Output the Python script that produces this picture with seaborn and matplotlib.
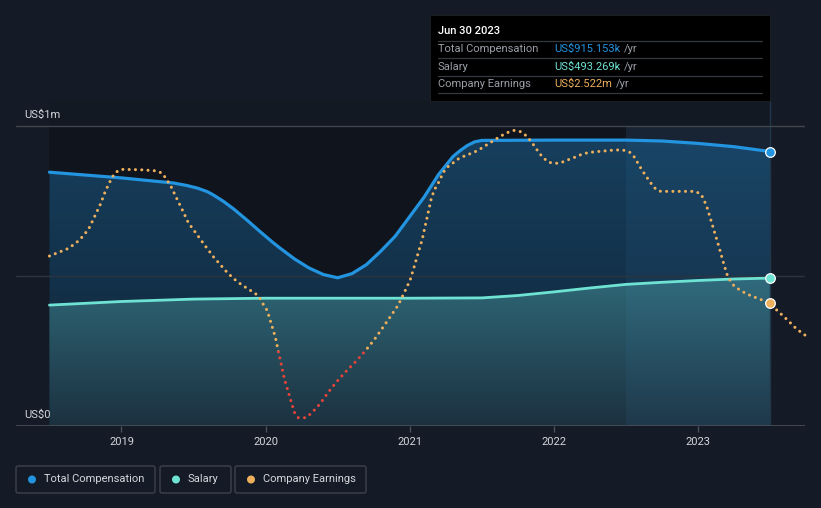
import numpy as np
import pandas as pd
import matplotlib
matplotlib.use("Agg")
import matplotlib.pyplot as plt
import seaborn as sns
from matplotlib.patches import Rectangle, FancyBboxPatch, Circle
from matplotlib.lines import Line2D
from matplotlib.transforms import IdentityTransform
from matplotlib.colors import LinearSegmentedColormap

# ---------------- data ----------------
comp_t = [2018.5, 2019.0, 2019.36, 2019.45, 2019.527, 2019.596, 2019.638, 2019.707, 2019.777, 2019.874,
          2019.964, 2020.05, 2020.1, 2020.2, 2020.3, 2020.4, 2020.5, 2020.6, 2020.7, 2020.8,
          2020.9, 2021.0, 2021.1, 2021.2, 2021.3, 2021.35, 2021.4, 2021.45, 2021.5, 2022.0,
          2022.5, 2022.75, 2023.0, 2023.25, 2023.5]
comp_v = [0.846, 0.827, 0.810, 0.802, 0.793, 0.781, 0.770, 0.749, 0.724, 0.685,
          0.647, 0.612, 0.593, 0.557, 0.527, 0.505, 0.494, 0.508, 0.538, 0.583,
          0.633, 0.698, 0.763, 0.838, 0.898, 0.918, 0.935, 0.947, 0.952, 0.953,
          0.953, 0.950, 0.942, 0.931, 0.915]

sal_t = [2018.5, 2019.0, 2019.5, 2020.0, 2021.0, 2021.5, 2021.75, 2022.0, 2022.25,
         2022.5, 2022.75, 2023.0, 2023.25, 2023.5]
sal_v = [0.403, 0.415, 0.423, 0.426, 0.426, 0.427, 0.435, 0.447, 0.460,
         0.472, 0.479, 0.485, 0.490, 0.493]

earn_t = [2018.5, 2018.633, 2018.709, 2018.771, 2018.813, 2018.854, 2018.889, 2018.931, 2018.958, 2019.0,
          2019.132, 2019.243, 2019.284, 2019.312, 2019.340, 2019.381, 2019.423, 2019.464, 2019.527, 2019.582,
          2019.638, 2019.735, 2019.804, 2019.880, 2019.929, 2019.964, 2019.984, 2020.012, 2020.040, 2020.068,
          2020.088, 2020.109, 2020.130, 2020.158, 2020.185, 2020.199, 2020.227, 2020.276, 2020.310, 2020.345,
          2020.380, 2020.435, 2020.497, 2020.560, 2020.629, 2020.692, 2020.754, 2020.809, 2020.865, 2020.920,
          2020.962, 2021.003, 2021.031, 2021.059, 2021.087, 2021.107, 2021.128, 2021.149, 2021.170, 2021.191,
          2021.211, 2021.232, 2021.260, 2021.302, 2021.336, 2021.385, 2021.426, 2021.475, 2021.510, 2021.551,
          2021.593, 2021.641, 2021.683, 2021.724, 2021.773, 2021.808, 2021.842, 2021.870, 2021.898, 2021.932,
          2021.967, 2022.016, 2022.064, 2022.106, 2022.154, 2022.196, 2022.244, 2022.293, 2022.341, 2022.390,
          2022.438, 2022.480, 2022.529, 2022.563, 2022.584, 2022.612, 2022.640, 2022.667, 2022.695, 2022.730,
          2022.785, 2022.875, 2022.979, 2023.021, 2023.042, 2023.062, 2023.090, 2023.118, 2023.146, 2023.173,
          2023.201, 2023.222, 2023.250, 2023.291, 2023.340, 2023.381, 2023.423, 2023.5, 2023.548, 2023.617,
          2023.686, 2023.742]
earn_v = [5.04, 5.45, 5.89, 6.46, 7.13, 7.80, 8.51, 9.17, 9.49, 9.65,
          9.63, 9.57, 9.44, 9.12, 8.80, 8.14, 7.48, 6.81, 6.15, 5.57,
          5.00, 4.15, 3.67, 3.28, 3.05, 2.75, 2.47, 2.13, 1.42, 0.71,
          -0.02, -0.74, -1.49, -2.20, -2.90, -3.26, -3.56, -3.56, -3.37, -3.10,
          -2.80, -2.20, -1.61, -1.08, -0.55, 0.00, 0.59, 1.19, 1.81, 2.43,
          3.09, 3.76, 4.47, 5.21, 5.93, 6.63, 7.34, 8.07, 8.55, 8.81,
          9.12, 9.48, 9.76, 10.00, 10.20, 10.38, 10.50, 10.66, 10.84, 11.03,
          11.24, 11.46, 11.62, 11.72, 11.65, 11.44, 11.14, 10.84, 10.52, 10.23,
          10.02, 9.97, 10.05, 10.18, 10.32, 10.46, 10.55, 10.59, 10.62, 10.66,
          10.68, 10.68, 10.55, 10.27, 9.97, 9.61, 9.29, 8.99, 8.69, 8.49,
          8.48, 8.48, 8.48, 8.34, 8.02, 7.66, 6.95, 6.24, 5.53, 4.79,
          4.08, 3.76, 3.46, 3.23, 3.02, 2.89, 2.77, 2.522, 2.16, 1.67,
          1.15, 0.84]

year_ticks = [2019, 2020, 2021, 2022, 2023]
year_labels = ["2019", "2020", "2021", "2022", "2023"]
y_ticks = [0.0, 1.0]
y_labels = ["US$0", "US$1m"]

tip_title = "Jun 30 2023"
tip_rows = ["Total Compensation", "Salary", "Company Earnings"]
tip_vals = ["US$915.153k", "US$493.269k", "US$2.522m"]
legend_names = ["Total Compensation", "Salary", "Company Earnings"]

# ---------------- style ----------------
BG = '#151b26'
BLUE = '#2394df'
TEAL = '#6fe3d3'
ORANGE = '#eeb05c'
RED = '#e8443a'
TXT = '#d4d7dc'

sns.set_theme(style='dark')
plt.rcParams['font.family'] = ['Roboto', 'DejaVu Sans']

comp_df = pd.DataFrame({'t': comp_t, 'v': comp_v})
sal_df = pd.DataFrame({'t': sal_t, 'v': sal_v})
earn_df = pd.DataFrame({'t': earn_t, 'v': earn_v})

W, H = 821, 508
fig = plt.figure(figsize=(W / 100, H / 100), dpi=100, facecolor=BG)
ax = fig.add_axes([16 / W, 82 / H, 789 / W, 326 / H])
ax.set_facecolor(BG)
XLIM = (2018.268, 2023.743)
YLIM = (0, 326 / 300)

for s in ax.spines.values():
    s.set_visible(False)
ax.grid(False)

# darker plot region
ax.add_patch(Rectangle((2018.5, 0), 4.0, 1.0, facecolor='#000000', alpha=0.22, edgecolor='none', zorder=0.5))
ax.add_patch(Rectangle((2018.5, 1.0), 5.0, 0.2, facecolor='#000000', alpha=0.06, edgecolor='none', zorder=0.5))


def grad_fill(x, y, ctop, cbot, ytop, z):
    poly = ax.fill_between(x, 0, y, facecolor='none', edgecolor='none', zorder=z)
    cmap = LinearSegmentedColormap.from_list('g', [cbot, ctop])
    grad = np.linspace(0, 1, 256).reshape(-1, 1)
    im = ax.imshow(grad, extent=[min(x), max(x), 0, ytop], aspect='auto', origin='lower',
                   cmap=cmap, zorder=z, interpolation='bicubic')
    im.set_clip_path(poly.get_paths()[0], ax.transData)


grad_fill(comp_t, comp_v, '#17405f', '#0f2335', 1.0, 1)
grad_fill(sal_t, sal_v, '#2f6877', '#1c3140', 0.5, 2)

# highlighted last year
ax.add_patch(Rectangle((2022.5, 0), 1.0, 1.0, facecolor='#4aa0e0', alpha=0.07, edgecolor='none', zorder=2.5))
ax.axvline(2023.5, color='#22364a', lw=1, zorder=2.6)

# gridlines
ax.axhline(0.5, color='#2c3440', lw=1, zorder=2.7)
ax.axhline(1.0, color='#40454e', lw=1, zorder=2.7)
ax.axhline(0.0, color='#4a4f58', lw=1.2, zorder=2.7)

sns.lineplot(data=comp_df, x='t', y='v', ax=ax, color=BLUE, lw=2.3, zorder=4, legend=False)
sns.lineplot(data=sal_df, x='t', y='v', ax=ax, color=TEAL, lw=2.0, zorder=4, legend=False)
for ln in ax.lines[-2:]:
    ln.set_solid_joinstyle('round')
ax.scatter([comp_t[-1]], [comp_v[-1]], s=48, color=BLUE, edgecolor='white', lw=0.9, zorder=6)
ax.scatter([sal_t[-1]], [sal_v[-1]], s=48, color=TEAL, edgecolor='white', lw=0.9, zorder=6)

ax.set_xlim(*XLIM)
ax.set_ylim(*YLIM)
ax.set_xticks(year_ticks)
ax.set_xticklabels(year_labels)
ax.set_yticks([])
ax.tick_params(axis='x', colors='#4a4f58', length=4, width=1, pad=4, labelsize=8, labelcolor=TXT, direction='out', bottom=True)
ax.set_xlabel('')
ax.set_ylabel('')

for yv, lab in zip(y_ticks, y_labels):
    ax.annotate(lab, xy=(8 / 789, yv), xycoords=('axes fraction', 'data'), xytext=(0, 4),
                textcoords='offset points', ha='left', va='bottom', fontsize=8, color=TXT, zorder=7)

# earnings on its own scale
ax2 = ax.twinx()
ax2.set_ylim(-4.0, 13.34)
ax2.set_xlim(*XLIM)
for s in ax2.spines.values():
    s.set_visible(False)
ax2.set_yticks([])
ax2.grid(False)
dots = (0, (0.01, 2.05))
sns.lineplot(data=earn_df, x='t', y='v', ax=ax2, color=ORANGE, lw=2.2, legend=False)
l_or = ax2.lines[-1]
l_or.set_linestyle(dots); l_or.set_dash_capstyle('round')
l_or.set_clip_path(Rectangle((2018, 0), 10, 100, transform=ax2.transData))
sns.lineplot(data=earn_df, x='t', y='v', ax=ax2, color=RED, lw=2.2, legend=False)
l_red = ax2.lines[-1]
l_red.set_linestyle(dots); l_red.set_dash_capstyle('round')
l_red.set_clip_path(Rectangle((2018, -100), 10, 100, transform=ax2.transData))
ax2.scatter([2023.5], [2.522], s=48, color=ORANGE, edgecolor='white', lw=0.9, zorder=6)
ax2.set_xlim(*XLIM)
ax2.set_xlabel('')
ax2.set_ylabel('')
ax2.tick_params(axis='x', bottom=False, top=False, labelbottom=False)

ID = IdentityTransform()


def P(x, y):
    return x, H - y


# tooltip
fig.patches.append(Rectangle(P(430, 101), 340, 86, facecolor='#000000', edgecolor='#1a1d22', lw=0.8, transform=ID, figure=fig, zorder=10))
for ys in [41, 58.3, 76, 93.3]:
    fig.lines.append(Line2D([438, 762], [H - ys, H - ys], color='#35383e', lw=0.9, transform=ID, figure=fig, zorder=11))
fig.text(*P(438, 31), tip_title, transform=ID, color='white', fontsize=8, va='center', ha='left', zorder=12, fontweight='medium')
renderer = fig.canvas.get_renderer()
row_y = [49, 66.7, 84.3]
for lab, val, col, yy in zip(tip_rows, tip_vals, [BLUE, TEAL, ORANGE], row_y):
    fig.text(*P(438, yy), lab, transform=ID, color='#9a9ea6', fontsize=8, va='center', ha='left', zorder=12)
    tv = fig.text(*P(554, yy), val, transform=ID, color=col, fontsize=8, va='center', ha='left', zorder=12)
    bb = tv.get_window_extent(renderer)
    fig.text(bb.x1 + 4, H - yy, '/yr', transform=ID, color='#9a9ea6', fontsize=8, va='center', ha='left', zorder=12)

# legend
boxes = [(16, 139), (160, 71), (235, 131)]
for (bx, bw), name, col in zip(boxes, legend_names, [BLUE, TEAL, ORANGE]):
    fig.patches.append(FancyBboxPatch((bx, H - 493), bw, 27, boxstyle='round,pad=0,rounding_size=2',
                                      facecolor='none', edgecolor='#3c414a', lw=1, transform=ID, figure=fig, zorder=10))
    fig.patches.append(Circle((bx + 16, H - 479.5), 4, facecolor=col, edgecolor='none', transform=ID, figure=fig, zorder=11))
    fig.text(bx + 28, H - 479.5, name, transform=ID, color=TXT, fontsize=8, va='center', ha='left', zorder=12)

fig.savefig('out.png', dpi=100, facecolor=BG)
